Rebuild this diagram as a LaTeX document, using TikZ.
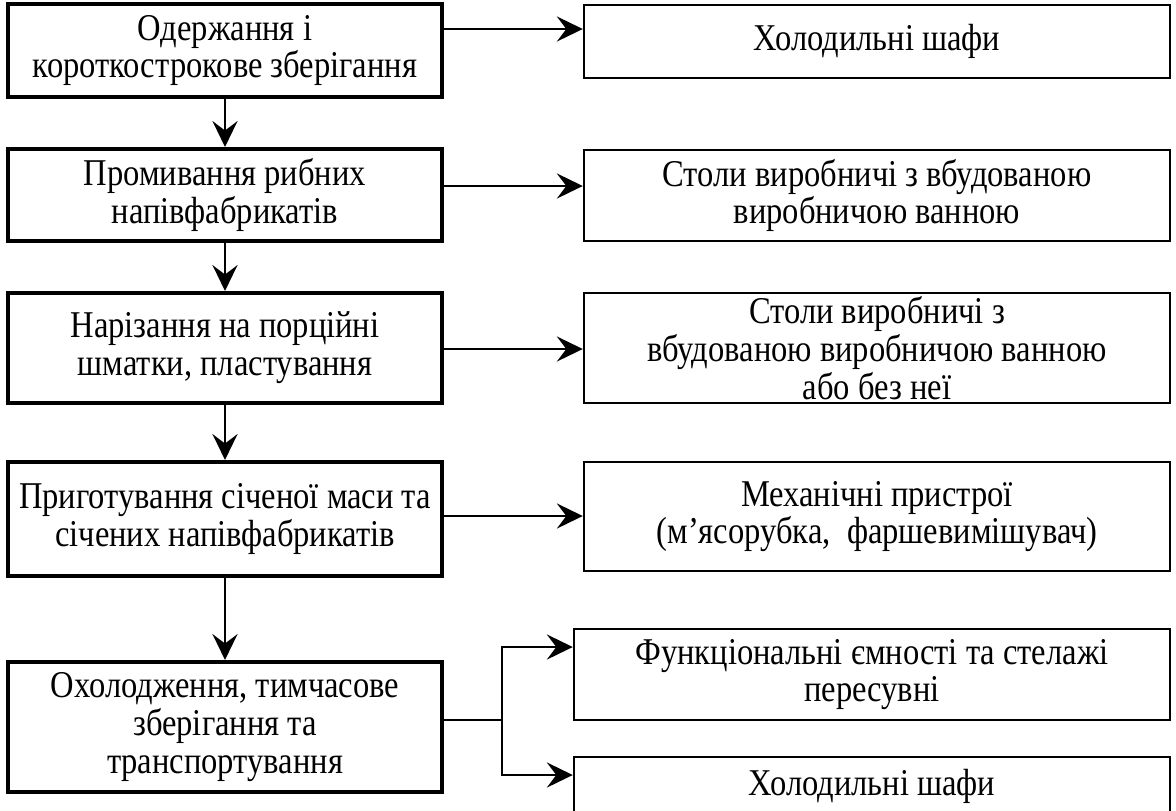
\documentclass[tikz,border=0pt]{standalone}
\usepackage{fontspec}
\setmainfont[FakeStretch=0.86]{Liberation Serif}
\usetikzlibrary{arrows.meta}
\begin{document}
\begin{tikzpicture}[x=0.37pt,y=-0.37pt,
  txt/.style={align=center, inner sep=0pt, font=\fontsize{14pt}{14pt}\selectfont},
  procbox/.style={txt, draw, line width=1.5pt, minimum width=434*0.37pt},
  eqbox/.style={txt, draw, line width=0.9pt, minimum width=586*0.37pt},
  eqboxw/.style={txt, draw, line width=0.9pt, minimum width=596*0.37pt},
  arr/.style={line width=0.75pt, -{Stealth[length=9.6pt,width=9.3pt,inset=3.5pt]}},
  ln/.style={line width=0.75pt}]
\useasboundingbox (0,0) rectangle (1176,810);
\clip (0,0) rectangle (1176,810);

% process column
\node[procbox, minimum height=93*0.37pt]  (L1) at (225,50.5) {Одержання і\\короткострокове зберігання};
\node[procbox, minimum height=92*0.37pt]  (L2) at (225,195)  {Промивання рибних\\напівфабрикатів};
\node[procbox, minimum height=110*0.37pt] (L3) at (225,348)  {Нарізання на порційні\\шматки, пластування};
\node[procbox, minimum height=114*0.37pt] (L4) at (225,519)  {Приготування січеної маси та\\січених напівфабрикатів};
\node[procbox, minimum height=130*0.37pt] (L5) at (225,727)  {Охолодження, тимчасове\\зберігання та\\транспортування};

% equipment column
\node[eqbox, minimum height=73*0.37pt]  (R1) at (877,41.5)  {Холодильні шафи};
\node[eqbox, minimum height=91*0.37pt]  (R2) at (877,195.5) {Столи виробничі з вбудованою\\виробничою ванною};
\node[eqbox, minimum height=110*0.37pt] (R3) at (877,348)   {Столи виробничі з\\вбудованою виробничою ванною\\або без неї};
\node[eqbox, minimum height=109*0.37pt] (R4) at (877,516.5) {Механічні пристрої\\(м’ясорубка,\ \ фаршевимішувач)};
\node[eqboxw, minimum height=91*0.37pt] (R5a) at (872,674.5) {Функціональні ємності та стелажі\\пересувні};
\node[eqboxw, minimum height=58*0.37pt] (R5b) at (872,786)  {Холодильні шафи};

% levels of horizontal connectors
\coordinate (h1) at (500,29);
\coordinate (h2) at (500,186);
\coordinate (h3) at (500,349);
\coordinate (h4) at (500,516);
\coordinate (J)  at (502,720);
\coordinate (h5a) at (540,647);
\coordinate (h5b) at (540,775);

% vertical flow
\draw[arr] (L1.south) -- (L2.north);
\draw[arr] (L2.south) -- (L3.north);
\draw[arr] (L3.south) -- (L4.north);
\draw[arr] (L4.south) -- (L5.north);

% horizontal connectors
\draw[arr] (L1.east |- h1) -- (R1.west |- h1);
\draw[arr] (L2.east |- h2) -- (R2.west |- h2);
\draw[arr] (L3.east |- h3) -- (R3.west |- h3);
\draw[arr] (L4.east |- h4) -- (R4.west |- h4);
\draw[ln] (L5.east |- J) -- (J);
\draw[arr] (J) |- (R5a.west |- h5a);
\draw[arr] (J) |- (R5b.west |- h5b);
\end{tikzpicture}
\end{document}
